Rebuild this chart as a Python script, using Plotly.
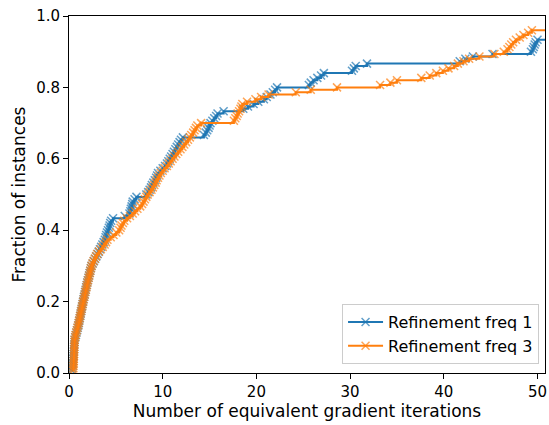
import plotly.graph_objects as go

# ---- data ----
n_instances = 150
x_limit = 50.8
series_names = ["Refinement freq 1", "Refinement freq 3"]
series_colors = ["#1f77b4", "#ff7f0e"]

# sorted number of equivalent gradient iterations for solved instances
iters_freq1 = [
    0.30, 0.35, 0.40, 0.44, 0.46, 0.47, 0.49, 0.50, 0.52, 0.54,
    0.55, 0.57, 0.59, 0.60, 0.67, 0.74, 0.80, 0.87, 0.93, 1.00,
    1.05, 1.10, 1.15, 1.20, 1.25, 1.30, 1.35, 1.40, 1.45, 1.50,
    1.55, 1.60, 1.67, 1.72, 1.78, 1.83, 1.89, 1.95, 2.01, 2.08,
    2.14, 2.20, 2.27, 2.33, 2.40, 2.53, 2.66, 2.79, 2.92, 3.06,
    3.17, 3.30, 3.43, 3.56, 3.69, 3.82, 3.90, 3.97, 4.05, 4.15,
    4.25, 4.33, 4.40, 4.50, 4.70, 5.95, 6.45, 6.55, 6.60, 6.68,
    6.75, 6.80, 7.00, 7.20, 8.25, 8.45, 8.60, 8.75, 8.85, 9.00,
    9.15, 9.30, 9.40, 9.50, 9.75, 10.00, 10.25, 10.45, 10.60, 10.75,
    10.90, 11.05, 11.20, 11.35, 11.50, 11.65, 11.80, 11.95, 12.15, 14.40,
    14.60, 14.75, 14.90, 15.00, 15.10, 15.30, 15.50, 15.70, 15.85, 16.50,
    18.60, 19.10, 19.70, 20.20, 20.80, 21.10, 21.50, 21.75, 22.00, 22.20,
    25.60, 25.80, 26.10, 26.50, 26.90, 27.20, 30.20, 30.40, 30.60, 31.80,
    41.70, 42.30, 43.10, 45.20, 49.30, 49.50, 49.60, 49.70, 49.80, 50.00,
]
iters_freq3 = [
    0.45, 0.47, 0.48, 0.50, 0.51, 0.52, 0.53, 0.54, 0.55, 0.56,
    0.57, 0.58, 0.59, 0.60, 0.67, 0.70, 0.77, 0.84, 0.90, 0.97,
    1.03, 1.08, 1.14, 1.19, 1.24, 1.29, 1.35, 1.40, 1.46, 1.52,
    1.57, 1.63, 1.68, 1.74, 1.80, 1.86, 1.91, 1.97, 2.03, 2.10,
    2.16, 2.22, 2.28, 2.34, 2.41, 2.50, 2.62, 2.75, 2.88, 3.00,
    3.20, 3.40, 3.60, 3.80, 3.95, 4.10, 4.45, 4.75, 5.05, 5.35,
    5.50, 5.60, 5.75, 5.90, 6.20, 6.50, 6.80, 7.05, 7.30, 7.60,
    7.80, 7.95, 8.10, 8.25, 8.40, 8.60, 8.80, 8.95, 9.10, 9.25,
    9.35, 9.50, 9.65, 9.80, 10.00, 10.20, 10.45, 10.65, 10.85, 11.05,
    11.25, 11.45, 11.65, 11.90, 12.10, 12.30, 12.50, 12.70, 12.90, 13.05,
    13.25, 13.40, 13.55, 13.70, 14.10, 17.60, 17.75, 17.90, 18.00, 18.15,
    18.30, 18.40, 18.50, 19.00, 19.90, 20.50, 21.30, 24.20, 25.80, 28.60,
    33.20, 34.30, 35.00, 37.60, 38.50, 39.20, 39.90, 40.50, 41.10, 41.50,
    42.10, 42.70, 43.80, 45.40, 46.40, 46.80, 47.00, 47.20, 47.40, 47.70,
    48.10, 48.50, 49.00, 49.40,
]
x_ticks = [0, 10, 20, 30, 40, 50]
y_ticks = [0.0, 0.2, 0.4, 0.6, 0.8, 1.0]

FONT = "DejaVu Sans"
TICK_FS = 15
TITLE_FS = 17
LEGEND_FS = 16

fig = go.Figure()
for name, color, iters in zip(series_names, series_colors,
                              [iters_freq1, iters_freq3]):
    fracs = [(i + 1) / n_instances for i in range(len(iters))]
    xs = list(iters) + [x_limit + 1]
    ys = fracs + [fracs[-1]]
    sizes = [8] * len(iters) + [0]
    fig.add_trace(go.Scatter(
        x=xs, y=ys, mode="lines+markers", name=name,
        line=dict(color=color, width=2, shape="hv"),
        marker=dict(symbol="x-thin", size=sizes, color=color,
                    line=dict(color=color, width=1.5)),
    ))

axis_common = dict(
    showline=True, linecolor="black", linewidth=1, mirror=True,
    ticks="outside", ticklen=5, tickwidth=1, tickcolor="black",
    showgrid=False, zeroline=False, ticklabeloverflow="allow",
    tickfont=dict(family=FONT, size=TICK_FS, color="black"),
)
fig.update_xaxes(range=[0, x_limit], tickvals=x_ticks,
                 ticktext=[str(v) for v in x_ticks],
                 title=dict(text="Number of equivalent gradient iterations",
                            font=dict(family=FONT, size=TITLE_FS, color="black"),
                            standoff=4),
                 **axis_common)
fig.update_yaxes(range=[0, 1], tickvals=y_ticks,
                 ticktext=[f"{v:.1f}" for v in y_ticks],
                 title=dict(text="Fraction of instances",
                            font=dict(family=FONT, size=TITLE_FS, color="black"),
                            standoff=6),
                 **axis_common)
fig.update_layout(
    width=549, height=425,
    margin=dict(l=69, r=2, t=16, b=52),
    paper_bgcolor="white", plot_bgcolor="white",
    font=dict(family=FONT, size=TICK_FS, color="black"),
    legend=dict(x=0.9875, y=0.025, xanchor="right", yanchor="bottom",
                bgcolor="rgba(255,255,255,0.8)", bordercolor="#cccccc",
                borderwidth=1, itemwidth=35, tracegroupgap=0,
                font=dict(family=FONT, size=LEGEND_FS, color="black")),
    showlegend=True,
)
fig.write_html("out.html",
               config={"displayModeBar": False},
               post_script="document.body.style.margin='0';"
                           "document.body.style.padding='0';")
